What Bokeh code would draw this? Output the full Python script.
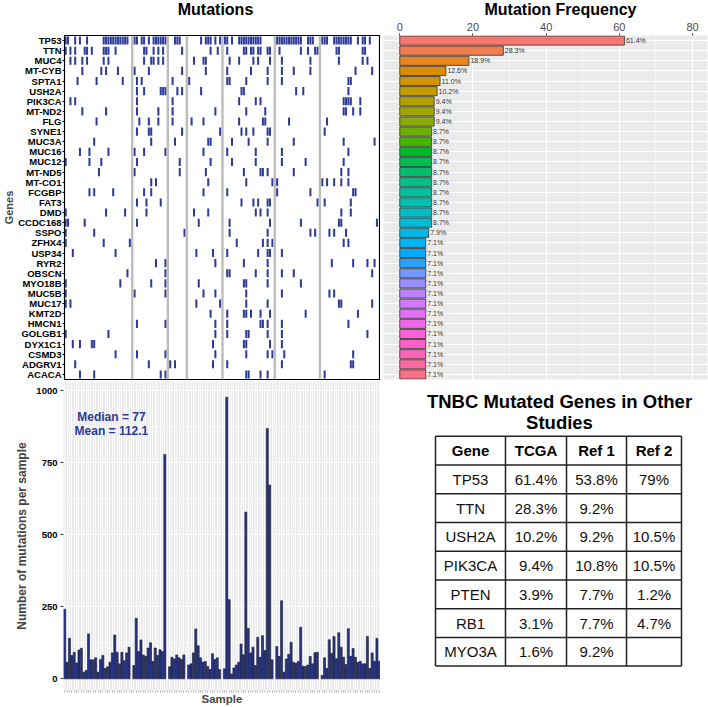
import math
from bokeh.plotting import figure
from bokeh.layouts import row, column
from bokeh.models import Range1d, FactorRange, FixedTicker, Span, CustomJSTickFormatter
from bokeh.core.properties import value
from bokeh.embed import file_html
from bokeh.resources import INLINE

# ---------------- data ----------------
genes = ["TP53", "TTN", "MUC4", "MT-CYB", "SPTA1", "USH2A", "PIK3CA", "MT-ND2", "FLG",
         "SYNE1", "MUC3A", "MUC16", "MUC12", "MT-ND5", "MT-CO1", "FCGBP", "FAT3", "DMD",
         "CCDC168", "SSPO", "ZFHX4", "USP34", "RYR2", "OBSCN", "MYO18B", "MUC5B", "MUC17",
         "KMT2D", "HMCN1", "GOLGB1", "DYX1C1", "CSMD3", "ADGRV1", "ACACA"]

freq_pct = [61.4, 28.3, 18.9, 12.6, 11.0, 10.2, 9.4, 9.4, 9.4,
            8.7, 8.7, 8.7, 8.7, 8.7, 8.7, 8.7, 8.7, 8.7, 8.7,
            7.9, 7.1, 7.1, 7.1, 7.1, 7.1, 7.1, 7.1, 7.1, 7.1, 7.1, 7.1, 7.1, 7.1, 7.1]

# samples per group (groups separated by grey lines)
group_sizes = [28, 14, 7, 14, 21, 18, 25]

# mutated samples per gene (column in plotted order, separator columns included)
mut_cols = [
    [0, 1, 4, 6, 9, 16, 17, 18, 19, 20, 21, 22, 23, 24, 25, 26, 29, 30, 32, 33, 35, 37, 38, 39, 40, 41, 42,
     46, 47, 48, 57, 59, 60, 61, 63, 65, 67, 68, 70, 73, 74, 75, 76, 77, 78, 79, 80, 81, 82, 89, 90, 91, 92,
     93, 94, 95, 96, 97, 98, 99, 102, 103, 104, 108, 109, 110, 113, 114, 115, 116, 117, 118, 119, 120, 123,
     125, 126, 128],
    [0, 2, 4, 8, 9, 11, 16, 17, 18, 21, 33, 34, 37, 39, 41, 49, 61, 64, 68, 75, 76, 78, 79, 81, 82, 85, 86,
     90, 99, 102, 105, 106, 114, 115, 125, 126],
    [2, 4, 7, 9, 16, 18, 33, 36, 37, 39, 41, 54, 58, 59, 69, 73, 79, 81, 86, 91, 103, 115, 125, 127],
    [7, 15, 17, 22, 29, 35, 49, 59, 68, 78, 85, 91, 96, 103, 122, 129],
    [5, 13, 24, 30, 32, 45, 52, 68, 69, 76, 85, 91, 119, 120],
    [30, 33, 40, 41, 42, 47, 49, 57, 74, 75, 97, 100, 119],
    [2, 4, 30, 45, 73, 80, 82, 117, 118, 119, 120, 124],
    [7, 17, 30, 39, 45, 63, 76, 84, 117, 118, 121, 124],
    [13, 31, 35, 39, 45, 53, 58, 73, 83, 84, 94, 110],
    [30, 35, 36, 49, 65, 74, 76, 79, 85, 86, 109],
    [12, 36, 46, 60, 61, 70, 77, 85, 96, 117, 130],
    [6, 10, 18, 29, 33, 42, 58, 68, 80, 91, 119],
    [0, 10, 15, 30, 48, 61, 70, 80, 91, 101, 117],
    [14, 29, 48, 59, 75, 82, 83, 85, 96, 116, 119],
    [36, 38, 60, 76, 87, 89, 108, 110, 113, 116, 119],
    [10, 12, 20, 33, 36, 58, 68, 89, 103, 121, 122],
    [30, 34, 40, 74, 79, 81, 85, 86, 106, 109, 120],
    [0, 17, 25, 34, 54, 60, 80, 82, 85, 116, 120],
    [0, 1, 8, 30, 56, 69, 86, 99, 115, 116, 131],
    [0, 12, 50, 69, 85, 103, 105, 111, 113, 118],
    [0, 16, 27, 72, 83, 85, 87, 117, 119],
    [3, 21, 55, 62, 68, 81, 85, 86, 91],
    [38, 42, 63, 75, 85, 112, 121, 127, 130],
    [26, 42, 68, 69, 80, 85, 91, 96, 129],
    [0, 23, 36, 42, 56, 75, 76, 85, 99],
    [0, 29, 42, 58, 63, 76, 91, 111, 113],
    [0, 2, 55, 65, 76, 85, 115, 116, 129],
    [61, 68, 75, 76, 78, 82, 86, 101, 123],
    [30, 42, 63, 68, 82, 83, 85, 91, 119],
    [0, 18, 63, 68, 76, 77, 85, 91, 127],
    [3, 6, 11, 12, 62, 75, 76, 86, 91],
    [21, 30, 42, 63, 76, 85, 87, 92, 121],
    [4, 35, 44, 46, 62, 68, 91, 120, 121],
    [6, 12, 40, 42, 76, 77, 82, 85, 109],
]

# mutations per sample, in plotted order
muts_per_sample = [
    242, 58, 141, 81, 92, 55, 100, 106, 23, 29, 156, 66, 66, 73, 23, 67, 81, 36, 42, 58, 90, 152, 92, 52, 92, 63, 90, 110,
    46, 210, 95, 135, 83, 78, 107, 125, 60, 107, 81, 101, 95, 779,
    42, 75, 69, 83, 73, 67, 83,
    48, 52, 90, 173, 115, 73, 58, 60, 43, 32, 87, 67, 73, 32,
    35, 978, 275, 17, 38, 48, 58, 121, 84, 579, 175, 90, 110, 46, 144, 75, 150, 98, 869, 673, 66,
    112, 78, 271, 23, 69, 85, 127, 58, 54, 60, 179, 44, 43, 48, 78, 52, 91, 92,
    12, 73, 36, 136, 89, 147, 70, 160, 110, 75, 50, 174, 78, 105, 75, 57, 61, 52, 52, 147, 36, 90, 61, 140, 61,
]
median_txt = "Median = 77"
mean_txt = "Mean = 112.1"

panel_titles = ["Mutations", "Mutation Frequency"]
tbl_title = ["TNBC Mutated Genes in Other", "Studies"]
tbl_header = ["Gene", "TCGA", "Ref 1", "Ref 2"]
tbl_gene = ["TP53", "TTN", "USH2A", "PIK3CA", "PTEN", "RB1", "MYO3A"]
tbl_tcga = ["61.4%", "28.3%", "10.2%", "9.4%", "3.9%", "3.1%", "1.6%"]
tbl_ref1 = ["53.8%", "9.2%", "9.2%", "10.8%", "7.7%", "7.7%", "9.2%"]
tbl_ref2 = ["79%", "", "10.5%", "10.5%", "1.2%", "4.7%", ""]

# ---------------- styles ----------------
FONT = "Liberation Sans"
NAVY = "#2d3b96"
BAR_NAVY = "#2a3688"
PANEL = "#EBEBEB"


def hcl_hex(h, c=100.0, l=65.0):
    Xn, Yn, Zn = 95.047, 100.0, 108.883
    hr = math.radians(h)
    U, V = c * math.cos(hr), c * math.sin(hr)
    Y = Yn * (((l + 16) / 116) ** 3)
    t = Xn + Yn + Zn
    x, y = Xn / t, Yn / t
    uN = 2 * x / (6 * y - x + 1.5)
    vN = 4.5 * y / (6 * y - x + 1.5)
    u = U / (13 * l) + uN
    v = V / (13 * l) + vN
    X = 9.0 * Y * u / (4 * v)
    Z = -X / 3 - 5 * Y + 3 * Y / v
    X, Y, Z = X / 100, Y / 100, Z / 100
    rgb = [3.240479 * X - 1.537150 * Y - 0.498535 * Z,
           -0.969256 * X + 1.875992 * Y + 0.041556 * Z,
           0.055648 * X - 0.204043 * Y + 1.057311 * Z]
    out = []
    for q in rgb:
        q = 12.92 * q if q <= 0.0031308 else 1.055 * q ** (1 / 2.4) - 0.055
        out.append(int(round(min(max(q, 0), 1) * 255)))
    return "#%02x%02x%02x" % tuple(out)


n = len(genes)
bar_colors = [hcl_hex(15 + 360.0 / n * i) for i in range(n)]

# plotted columns: samples plus one separator column between groups
gap_cols = []
sample_cols = []
pos = 0
for gi, gs in enumerate(group_sizes):
    for k in range(gs):
        sample_cols.append(pos)
        pos += 1
    if gi < len(group_sizes) - 1:
        gap_cols.append(pos)
        pos += 1
ncol = pos

LEFT = 63
LW, RW = 380, 328
STRIP_H = 18
TOPH, BOTH = 380 - STRIP_H, 327
TOPB = 35 - STRIP_H

# ---------------- title strip ----------------
strip = figure(width=LW + RW, height=STRIP_H, x_range=Range1d(0, LW + RW), y_range=Range1d(STRIP_H, 0),
               x_axis_location=None, y_axis_location=None, output_backend="svg",
               toolbar_location=None, min_border=0)
strip.outline_line_color = None
strip.grid.visible = False
strip.text(x=[215, 560], y=[9, 9], text=panel_titles, text_font=value(FONT), text_font_size="16px",
           text_font_style="bold", text_color="black", text_align="center", text_baseline="middle")

# ---------------- heatmap ----------------
heat = figure(width=LW, height=TOPH, x_range=Range1d(-0.5, ncol - 0.5),
              y_range=FactorRange(factors=genes[::-1], range_padding=0),
              x_axis_location=None, output_backend="svg", toolbar_location=None,
              min_border_left=LEFT, min_border_right=0, min_border_top=TOPB, min_border_bottom=1)
heat.grid.visible = False
heat.outline_line_color = "black"
heat.outline_line_width = 1.2
for g in gap_cols:
    heat.add_layout(Span(location=g, dimension="height", line_color="#bdbdbd", line_width=2.4))
hx, hy = [], []
for gname, cols in zip(genes, mut_cols):
    hx += cols
    hy += [gname] * len(cols)
heat.rect(x=hx, y=hy, width=0.85, height=0.8, fill_color=NAVY, line_color=None)
ya = heat.yaxis[0]
ya.major_label_text_font = FONT
ya.major_label_text_font_style = "bold"
ya.major_label_text_font_size = "9.5px"
ya.major_label_text_color = "black"
ya.axis_line_color = None
ya.major_tick_out = 2
ya.major_tick_in = 0
ya.major_label_standoff = 1
ya.axis_label = "Genes"
ya.axis_label_text_font = FONT
ya.axis_label_text_font_style = "bold"
ya.axis_label_text_font_size = "11px"
ya.axis_label_standoff = 0

# ---------------- frequency bars ----------------
freq = figure(width=RW, height=TOPH, x_range=Range1d(-4.45, 84.1),
              y_range=FactorRange(factors=genes[::-1], range_padding=0),
              x_axis_location="above", y_axis_location=None,
              output_backend="svg", toolbar_location=None,
              min_border_left=3, min_border_right=1, min_border_top=TOPB, min_border_bottom=1)
freq.background_fill_color = PANEL
freq.outline_line_color = None
freq.hbar(y=genes, left=0, right=freq_pct, height=0.9, fill_color=bar_colors,
          line_color="#4d4d4d", line_width=1)
freq.text(x=freq_pct, y=genes, text=["%.1f%%" % v for v in freq_pct], x_offset=1.5,
          text_font=value(FONT), text_font_size="7px", text_color="#333333",
          text_align="left", text_baseline="middle")
xa = freq.xaxis[0]
xa.ticker = FixedTicker(ticks=[0, 20, 40, 60, 80], minor_ticks=[10, 30, 50, 70])
xa.major_label_text_font = FONT
xa.major_label_text_font_size = "11px"
xa.major_label_text_color = "#4d4d4d"
xa.axis_line_color = None
xa.major_tick_out = 2
xa.major_tick_in = 0
xa.minor_tick_line_color = None
xa.major_tick_line_color = "#333333"
xa.major_label_standoff = 1
freq.xgrid.grid_line_color = "white"
freq.xgrid.grid_line_width = 1.1
freq.xgrid.minor_grid_line_color = "white"
freq.xgrid.minor_grid_line_width = 0.5
freq.ygrid.grid_line_color = "white"
freq.ygrid.grid_line_width = 1.1

# ---------------- mutations per sample ----------------
bot = figure(width=LW, height=BOTH, x_range=Range1d(-0.5, ncol - 0.5), y_range=Range1d(-40.5, 1032.5),
             output_backend="svg", toolbar_location=None,
             min_border_left=LEFT, min_border_right=0, min_border_top=1, min_border_bottom=17)
bot.background_fill_color = PANEL
bot.outline_line_color = None
bot.vbar(x=sample_cols, top=muts_per_sample, bottom=0, width=0.85,
         fill_color=BAR_NAVY, line_color="#111633", line_width=0.6)
bot.text(x=[19.6, 19.6], y=[909, 859], text=[median_txt, mean_txt],
         text_font=value(FONT), text_font_size="12px", text_font_style="bold",
         text_color=NAVY, text_align="center", text_baseline="middle")
bxa = bot.xaxis[0]
bxa.ticker = FixedTicker(ticks=list(range(ncol)), minor_ticks=[])
bxa.formatter = CustomJSTickFormatter(code="return ''")
bxa.axis_line_color = None
bxa.major_tick_out = 2
bxa.major_tick_in = 0
bxa.major_tick_line_color = "#666666"
bxa.major_tick_line_width = 0.5
bxa.major_label_standoff = 0
bxa.axis_label = "Sample"
bxa.axis_label_text_font = FONT
bxa.axis_label_text_font_style = "bold"
bxa.axis_label_text_font_size = "11.5px"
bxa.axis_label_standoff = 0
bya = bot.yaxis[0]
bya.ticker = FixedTicker(ticks=[0, 250, 500, 750, 1000], minor_ticks=[125, 375, 625, 875])
bya.major_label_text_font = FONT
bya.major_label_text_font_style = "bold"
bya.major_label_text_font_size = "9.5px"
bya.major_label_text_color = "black"
bya.axis_line_color = None
bya.major_tick_out = 3
bya.major_tick_in = 0
bya.minor_tick_line_color = None
bya.major_tick_line_color = "#333333"
bya.major_label_standoff = 2
bya.axis_label = "Number of mutations per sample"
bya.axis_label_text_font = FONT
bya.axis_label_text_font_style = "bold"
bya.axis_label_text_font_size = "12px"
bya.axis_label_standoff = 4
bot.xgrid.grid_line_color = "white"
bot.xgrid.grid_line_width = 0.8
bot.ygrid.grid_line_color = "white"
bot.ygrid.grid_line_width = 1.1
bot.ygrid.minor_grid_line_color = "white"
bot.ygrid.minor_grid_line_width = 0.5

# ---------------- table ----------------
tbl = figure(width=RW, height=BOTH, x_range=Range1d(0, RW), y_range=Range1d(BOTH, 0),
             x_axis_location=None, y_axis_location=None, output_backend="svg",
             toolbar_location=None, min_border=0)
tbl.outline_line_color = None
tbl.grid.visible = False
col_w = [70, 61, 60, 55]
row_h = 30.4
t_left, t_top = 55, 58
col_edges = [t_left]
for w in col_w:
    col_edges.append(col_edges[-1] + w)
nrows = len(tbl_gene) + 1
row_edges = [t_top + row_h * i for i in range(nrows + 1)]
tbl.segment(x0=col_edges, y0=[row_edges[0]] * len(col_edges), x1=col_edges,
            y1=[row_edges[-1]] * len(col_edges), line_color="#222222", line_width=1.5)
tbl.segment(x0=[col_edges[0]] * len(row_edges), y0=row_edges, x1=[col_edges[-1]] * len(row_edges),
            y1=row_edges, line_color="#222222", line_width=1.5)
cx = [(col_edges[i] + col_edges[i + 1]) / 2 for i in range(4)]
cy = [(row_edges[i] + row_edges[i + 1]) / 2 for i in range(nrows)]
tbl.text(x=cx, y=[cy[0]] * 4, text=tbl_header, text_font=value(FONT), text_font_size="15px",
         text_font_style="bold", text_color="black", text_align="center", text_baseline="middle")
bx, by, bt = [], [], []
for r in range(len(tbl_gene)):
    for ci, colvals in enumerate([tbl_gene, tbl_tcga, tbl_ref1, tbl_ref2]):
        if colvals[r]:
            bx.append(cx[ci])
            by.append(cy[r + 1])
            bt.append(colvals[r])
tbl.text(x=bx, y=by, text=bt, text_font=value(FONT), text_font_size="15px",
         text_color="#111111", text_align="center", text_baseline="middle")
tmid = (col_edges[0] + col_edges[-1]) / 2 + 1
tbl.text(x=[tmid, tmid], y=[21, 43], text=tbl_title, text_font=value(FONT), text_font_size="18.5px",
         text_font_style="bold", text_color="black", text_align="center", text_baseline="middle")

layout = column(strip, row(heat, freq), row(bot, tbl))
open("out.html", "w").write(file_html(layout, INLINE))
